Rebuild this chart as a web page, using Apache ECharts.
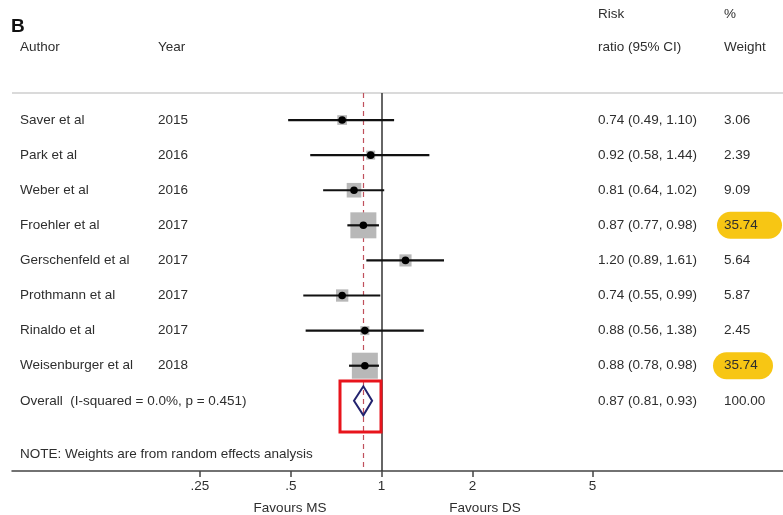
<!DOCTYPE html>
<html>
<head>
<meta charset="utf-8">
<script src="https://cdn.jsdelivr.net/npm/echarts@6/dist/echarts.min.js"></script>
<style>
  html, body { margin: 0; padding: 0; background: #fff; }
  #chart { width: 783px; height: 515px; }
</style>
</head>
<body>
<div id="chart"></div>
<script>
var authors = ["Saver et al", "Park et al", "Weber et al", "Froehler et al", "Gerschenfeld et al", "Prothmann et al", "Rinaldo et al", "Weisenburger et al"];
var years = [2015, 2016, 2016, 2017, 2017, 2017, 2017, 2018];
var rr = [0.74, 0.92, 0.81, 0.87, 1.20, 0.74, 0.88, 0.88];
var lower = [0.49, 0.58, 0.64, 0.77, 0.89, 0.55, 0.56, 0.78];
var upper = [1.10, 1.44, 1.02, 0.98, 1.61, 0.99, 1.38, 0.98];
var weights = [3.06, 2.39, 9.09, 35.74, 5.64, 5.87, 2.45, 35.74];
var highlighted = [3, 7];

var overallLabel = "Overall  (I-squared = 0.0%, p = 0.451)";
var overallRR = 0.87, overallLower = 0.81, overallUpper = 0.93;
var overallWeight = "100.00";
var noteText = "NOTE: Weights are from random effects analysis";

var tickValues = [0.25, 0.5, 1, 2, 5];
var tickLabels = [".25", ".5", "1", "2", "5"];

var FONT = "Liberation Sans, Arial, sans-serif";
var TXT = "#2e2e2e";
var log2 = Math.log2;

var chart = echarts.init(document.getElementById("chart"), null, { renderer: "canvas" });

function fmtCI(i) {
  return rr[i].toFixed(2) + " (" + lower[i].toFixed(2) + ", " + upper[i].toFixed(2) + ")";
}

var studyData = rr.map(function (v, i) {
  return [i, log2(v), log2(lower[i]), log2(upper[i]), weights[i]];
});
var overallRow = authors.length;

function renderStudy(params, api) {
  var row = api.value(0);
  var pEst = api.coord([api.value(1), row]);
  var pLo = api.coord([api.value(2), row]);
  var pHi = api.coord([api.value(3), row]);
  // box area proportional to weight
  var side = 3 + 23 * Math.sqrt(api.value(4) / 35.74);
  return {
    type: "group",
    children: [
      { type: "rect", shape: { x: pEst[0] - side / 2, y: pEst[1] - side / 2, width: side, height: side }, style: { fill: "#b8b8b8" } },
      { type: "line", shape: { x1: pLo[0], y1: pLo[1], x2: pHi[0], y2: pHi[1] }, style: { stroke: "#111", lineWidth: 2.2 } },
      { type: "circle", shape: { cx: pEst[0], cy: pEst[1], r: 3.8 }, style: { fill: "#000" } }
    ]
  };
}

function renderOverall(params, api) {
  var row = api.value(0);
  var c = api.coord([api.value(1), row]);
  var l = api.coord([api.value(2), row]);
  var r = api.coord([api.value(3), row]);
  var h = 14.5;
  return {
    type: "polygon",
    shape: { points: [[l[0], c[1]], [c[0], c[1] - h], [r[0], c[1]], [c[0], c[1] + h]] },
    style: { fill: "none", stroke: "#23236e", lineWidth: 2 }
  };
}

function txt(s, x, y, extra) {
  var st = { text: s, x: x, y: y, fill: TXT, fontSize: 13.5, fontFamily: FONT, verticalAlign: "middle", align: "left" };
  if (extra) for (var k in extra) st[k] = extra[k];
  return { type: "text", style: st };
}

var pillSpec = { 3: [717, 65], 7: [713, 60] };

function renderRowText(params, api) {
  var row = api.value(0);
  var y = api.coord([0, row])[1];
  var kids = [];
  if (row < authors.length) {
    if (highlighted.indexOf(row) >= 0) {
      var ps = pillSpec[row];
      kids.push({ type: "rect", shape: { x: ps[0], y: y - 13.5, width: ps[1], height: 27, r: 13.5 }, style: { fill: "#f7c614" } });
    }
    kids.push(txt(authors[row], 20, y));
    kids.push(txt(String(years[row]), 158, y));
    kids.push(txt(fmtCI(row), 598, y));
    kids.push(txt(weights[row].toFixed(2), 724, y));
  } else if (row === overallRow) {
    kids.push(txt(overallLabel, 20, y));
    kids.push(txt(overallRR.toFixed(2) + " (" + overallLower.toFixed(2) + ", " + overallUpper.toFixed(2) + ")", 598, y));
    kids.push(txt(overallWeight, 724, y));
  } else {
    kids.push(txt(noteText, 20, y));
  }
  return { type: "group", children: kids };
}

var xMin = -4.07, xMax = 4.42;
var sepRow = -0.77, axisRow = 10;

var option = {
  animation: false,
  backgroundColor: "#fff",
  grid: { left: 12, right: 0, top: 0, bottom: 44, containLabel: false, outerBoundsMode: "none" },
  xAxis: {
    type: "value",
    min: xMin,
    max: xMax,
    axisLine: { show: true, onZero: false, lineStyle: { color: "#444", width: 1.5 } },
    axisTick: { show: true, length: 6, customValues: tickValues.map(log2), lineStyle: { color: "#444", width: 1.5 } },
    axisLabel: {
      customValues: tickValues.map(log2),
      margin: 8,
      color: TXT,
      fontSize: 13.5,
      fontFamily: FONT,
      formatter: function (v) {
        for (var i = 0; i < tickValues.length; i++) {
          if (Math.abs(log2(tickValues[i]) - v) < 1e-6) return tickLabels[i];
        }
        return "";
      }
    },
    splitLine: { show: false }
  },
  yAxis: { type: "value", inverse: true, min: -3.42, max: axisRow, show: false },
  graphic: [
    { type: "text", left: 11, top: 17, style: { text: "B", font: "bold 19px " + FONT, fill: "#111" } },
    { type: "text", left: 20, top: 40, style: { text: "Author", fontSize: 13.5, fontFamily: FONT, fill: TXT } },
    { type: "text", left: 158, top: 40, style: { text: "Year", fontSize: 13.5, fontFamily: FONT, fill: TXT } },
    { type: "text", left: 598, top: 7, style: { text: "Risk", fontSize: 13.5, fontFamily: FONT, fill: TXT } },
    { type: "text", left: 598, top: 40, style: { text: "ratio (95% CI)", fontSize: 13.5, fontFamily: FONT, fill: TXT } },
    { type: "text", left: 724, top: 7, style: { text: "%", fontSize: 13.5, fontFamily: FONT, fill: TXT } },
    { type: "text", left: 724, top: 40, style: { text: "Weight", fontSize: 13.5, fontFamily: FONT, fill: TXT } },
    { type: "text", x: 290, y: 501, style: { text: "Favours MS", fontSize: 13.5, fontFamily: FONT, fill: TXT, align: "center" } },
    { type: "text", x: 485, y: 501, style: { text: "Favours DS", fontSize: 13.5, fontFamily: FONT, fill: TXT, align: "center" } },
    { type: "rect", shape: { x: 340, y: 381, width: 41, height: 51 }, style: { fill: "none", stroke: "#e8141c", lineWidth: 3 }, z: 100 }
  ],
  series: [
    {
      type: "custom",
      name: "lines",
      data: [],
      silent: true,
      markLine: {
        symbol: "none",
        silent: true,
        label: { show: false },
        data: [
          [{ coord: [xMin, sepRow], lineStyle: { color: "#dadada", width: 2, type: "solid" } }, { coord: [xMax, sepRow] }],
          [{ coord: [0, sepRow], lineStyle: { color: "#333", width: 1.5, type: "solid" } }, { coord: [0, axisRow] }],
          [{ coord: [log2(overallRR), sepRow], lineStyle: { color: "#c0505c", width: 1.2, type: [5, 4] } }, { coord: [log2(overallRR), axisRow] }]
        ]
      }
    },
    {
      type: "custom",
      name: "studies",
      renderItem: renderStudy,
      encode: { x: [1, 2, 3], y: 0 },
      data: studyData,
      z: 5
    },
    {
      type: "custom",
      name: "overall",
      renderItem: renderOverall,
      encode: { x: [1, 2, 3], y: 0 },
      data: [[overallRow, log2(overallRR), log2(overallLower), log2(overallUpper)]],
      z: 5
    },
    {
      type: "custom",
      name: "table",
      renderItem: renderRowText,
      encode: { y: 0 },
      data: [0, 1, 2, 3, 4, 5, 6, 7, 8, 9.51].map(function (r) { return [r]; }),
      z: 4
    }
  ]
};
chart.setOption(option);
</script>
</body>
</html>
